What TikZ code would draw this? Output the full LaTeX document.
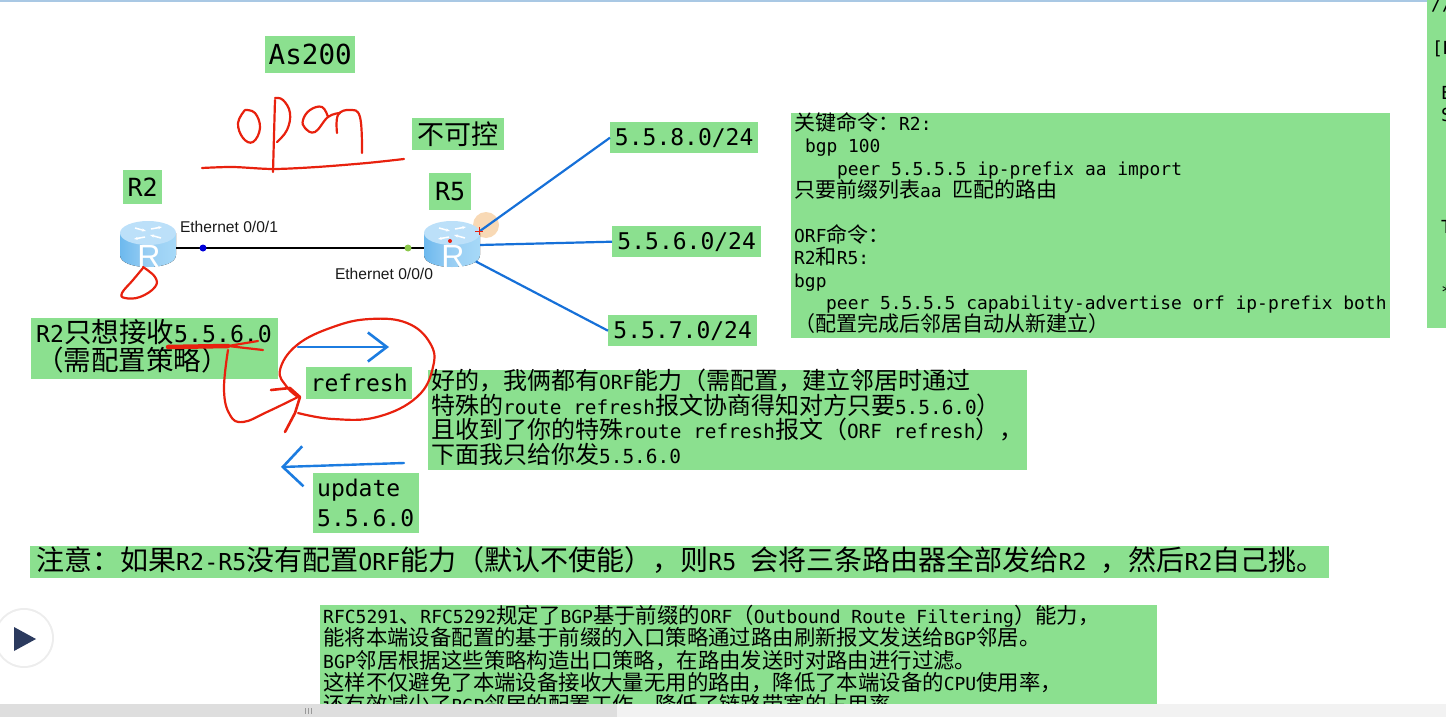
\documentclass[tikz,border=0pt]{standalone}
\usepackage{fontspec}
\setmonofont{DejaVu Sans Mono}
\newfontfamily\cjk{Noto Sans CJK SC}
\newfontfamily\portfont{Liberation Sans}
\usetikzlibrary{arrows.meta}
\definecolor{boxgreen}{HTML}{8BE08F}
\definecolor{penred}{HTML}{E8210E}
\definecolor{penblue}{HTML}{1C7CE0}
\definecolor{linkblue}{HTML}{1670D8}
\definecolor{routerside}{HTML}{6DB9EE}
\definecolor{routerlight}{HTML}{A6D9F8}
\definecolor{routertop}{HTML}{BCE0F9}
\definecolor{cursororange}{HTML}{F8D9B5}
\definecolor{portgreen}{HTML}{8CC84B}
\definecolor{playdark}{HTML}{2B3A5E}
\definecolor{topbar}{HTML}{A9C8E4}
\newcommand{\zh}[1]{{\fontsize{\zhsize}{\zhsize}\cjk #1}}
\newcommand{\boxfont}[3]{\fontsize{#1}{#3}\selectfont\ttfamily\lineskiplimit=-30pt\relax\def\zhsize{#2}}
\newcommand{\monospaces}{\spaceskip=.602em\relax\xspaceskip=.602em\relax}
\newcommand{\liftup}[1]{\par\vskip#1\hrule height 0pt}
\tikzset{
    greenbox/.style={fill=boxgreen,anchor=north west,inner ysep=0pt,inner xsep=#1,align=left,execute at begin node={\monospaces}},
    greenbox/.default=3pt,
    sizes/.style n args={3}{font={\boxfont{#1}{#2}{#3}}},
    redpen/.style={draw=penred,line width=2.2pt,line cap=round,line join=round},
    bluepen/.style={draw=penblue,line width=2.4pt,line cap=round,line join=round},
    bluelink/.style={draw=linkblue,line width=2.2pt},
    portdot/.style={circle,inner sep=0pt,minimum size=7pt},
    portlabel/.style={font=\fontsize{15.6}{15.6}\portfont,text=black!90},
    stripchar/.style={font=\fontsize{18}{18}\selectfont\ttfamily,inner sep=0pt},
    router/.style={minimum width=56pt,minimum height=50pt,inner sep=0pt,path picture={
        \begin{scope}[shift={(path picture bounding box.center)}]
            \fill[left color=routerside,right color=routerlight,middle color=routerside!70!white]
                (-28,-11) -- (-28,11) .. controls (-28,27) and (28,27) .. (28,11) -- (28,-11) -- cycle;
            \fill[routertop] (0,-11) ellipse [x radius=28pt,y radius=12pt];
            \draw[white,line width=1.5pt,-{Stealth[length=4pt]}] (-13,-16) -- (-2,-13);
            \draw[white,line width=1.5pt,-{Stealth[length=4pt]}] (13,-6) -- (2,-9);
            \draw[white,line width=1.5pt,-{Stealth[length=4pt]}] (-3,-7) -- (-14,-5);
            \draw[white,line width=1.5pt,-{Stealth[length=4pt]}] (3,-15) -- (14,-17);
        \end{scope}}},
    routerletter/.style={font=\fontsize{32}{32}\portfont,text=white,inner sep=0pt}
}
\begin{document}
\begin{tikzpicture}[x=1pt,y=-1pt]
    \useasboundingbox (0,0) rectangle (1446,717);
    \fill[topbar] (0,0) rectangle (1446,2);
    % Labels
    \node[greenbox,sizes={27.6}{27.6}{30},minimum width=90pt,minimum height=37pt] (asbox) at (265,36) {As200};
    \node[greenbox,sizes={27}{27}{30},minimum width=92pt,minimum height=32pt] (ctrlbox) at (412,118) {\zh{不可控}};
    \node[greenbox,sizes={25}{25}{28},minimum width=39pt,minimum height=34pt] (rtwobox) at (123,170) {R2};
    \node[greenbox,sizes={25}{25}{28},minimum width=42pt,minimum height=37pt] (rfivebox) at (429,173) {R5};
    % Routes
    \node[greenbox,sizes={23}{23}{26},minimum width=148pt,minimum height=31pt] (neta) at (610,122) {5.5.8.0/24};
    \node[greenbox,sizes={23}{23}{26},minimum width=149pt,minimum height=31pt] (netb) at (612,226) {5.5.6.0/24};
    \node[greenbox,sizes={23}{23}{26},minimum width=149pt,minimum height=31pt] (netc) at (608,315) {5.5.7.0/24};
    % Routers
    \fill[cursororange] (486,225) circle (13pt);
    \node[router] (rtwo) at (148,244) {};
    \node[router] (rfive) at (452,244) {};
    \node[routerletter] (rtwoletter) at (149,256) {R};
    \node[routerletter] (rfiveletter) at (453,256) {R};
    % Links
    \draw[line width=1.7pt,black] (rtwo.-8) -- (rfive.188);
    \draw[bluelink] (rfive.25) -- (neta.west);
    \draw[bluelink] (rfive.-2) -- (netb.west);
    \draw[bluelink,shorten <=-5pt] (rfive.-35) -- (netc.west);
    \node[portdot,fill=blue!85!black] (porta) at (203,248) {};
    \node[portdot,fill=portgreen] (portb) at (408,248) {};
    \node[portlabel] (portalabel) at (229,227) {Ethernet 0/0/1};
    \node[portlabel] (portblabel) at (384,274) {Ethernet 0/0/0};
    \fill[penred] (450,241) circle (2pt);
    \draw[penred,line width=1pt] (475,231) -- (483,231) (479,227) -- (479,235);
    % Text boxes
    \node[greenbox=5pt,sizes={23.2}{27.5}{28},text width=237pt,minimum height=61pt] (wantbox) at (31,318)
        {R2\zh{只想接收}5.5.6.0\\\zh{（需配置策略）}\liftup{4pt}};
    \node[greenbox,sizes={23}{23}{26},minimum width=106pt,minimum height=32pt] (refreshbox) at (306,367) {refresh};
    \node[greenbox=4pt,sizes={23}{23}{30},text width=98pt,minimum height=60pt] (updatebox) at (313,473)
        {update\\5.5.6.0};
    \node[greenbox,inner ysep=-4pt,sizes={17.9}{21}{22.4},text width=593pt,minimum height=225pt] (cmdbox) at (791,113)
        {\zh{关键命令：}R2:\\
        \hspace*{10.8pt}bgp 100\\
        \hspace*{43pt}peer 5.5.5.5 ip-prefix aa import\\
        \zh{只要前缀列表}aa \zh{匹配的路由}\\
        \mbox{}\\
        ORF\zh{命令：}\\
        R2\zh{和}R5:\\
        bgp\\
        \hspace*{32pt}peer 5.5.5.5 capability-advertise orf ip-prefix both\\
        \zh{（配置完成后邻居自动从新建立）}\liftup{5pt}};
    \node[greenbox,inner ysep=-5pt,sizes={19.4}{24}{24.7},text width=593pt,minimum height=100pt] (replybox) at (428,370)
        {\zh{好的，我俩都有}ORF\zh{能力（需配置，建立邻居时通过}\\
        \zh{特殊的}route refresh\zh{报文协商得知对方只要}5.5.6.0\zh{）}\\
        \zh{且收到了你的特殊}route refresh\zh{报文（}ORF refresh\zh{），}\\
        \zh{下面我只给你发}5.5.6.0\liftup{6pt}};
    \node[greenbox=6pt,inner ysep=-3pt,sizes={23.3}{28}{30},text width=1287pt,minimum height=32pt] (notebox) at (30,546)
        {\mbox{\zh{注意：如果}R2-R5\zh{没有配置}ORF\zh{能力（默认不使能），则}R5 \zh{会将三条路由器全部发给}R2 \zh{，然后}R2\zh{自己挑。}}\liftup{4pt}};
    \node[greenbox,sizes={18}{21.4}{22.3},text width=831pt,minimum height=113pt] (rfcbox) at (320,605)
        {RFC5291\zh{、}RFC5292\zh{规定了}BGP\zh{基于前缀的}ORF\zh{（}Outbound Route Filtering\zh{）能力，}\\
        \zh{能将本端设备配置的基于前缀的入口策略通过路由刷新报文发送给}BGP\zh{邻居。}\\
        BGP\zh{邻居根据这些策略构造出口策略，在路由发送时对路由进行过滤。}\\
        \zh{这样不仅避免了本端设备接收大量无用的路由，降低了本端设备的}CPU\zh{使用率，}\\
        \zh{还有效减少了}BGP\zh{邻居的配置工作，降低了链路带宽的占用率}\liftup{4pt}};
    % Right strip
    \fill[boxgreen] (1427,0) rectangle (1446,328);
    \begin{scope}
        \clip (1427,0) rectangle (1446,328);
        \node[stripchar,anchor=west] (stripa) at (1431,5) {//};
        \node[stripchar,anchor=west] (stripb) at (1432,49) {[R};
        \node[stripchar,anchor=west] (stripc) at (1441,93) {E};
        \node[stripchar,anchor=west] (stripd) at (1441,115) {S};
        \node[stripchar,anchor=west] (stripe) at (1441,227) {T};
        \node[stripchar,anchor=west] (stripf) at (1441,292) {*};
    \end{scope}
    % Handwriting
    \draw[redpen] plot[smooth,tension=0.7] coordinates {(245,110) (238,123) (243,138) (253,142) (260,128) (255,113) (245,110)};
    \draw[redpen] (273,172) -- (275,100);
    \draw[redpen] plot[smooth,tension=0.7] coordinates {(275,98) (283,100) (290,113) (287,130) (277,142)};
    \draw[redpen] plot[smooth,tension=0.7] coordinates {(340,113) (328,117) (315,132) (305,128) (303,120) (310,110) (322,107) (328,117)};
    \draw[redpen] plot[smooth,tension=0.7] coordinates {(337,133) (338,115) (350,110) (360,117) (362,153)};
    \draw[redpen] plot[smooth,tension=0.5] coordinates {(202,168) (233,167) (273,169) (317,167) (367,163) (404,159)};
    \draw[redpen] plot[smooth,tension=0.7] coordinates {(143,267) (155,277) (155,287) (140,297) (125,298) (122,293) (133,280) (143,268)};
    \draw[redpen,line width=4.5pt] (168,347) -- (228,346);
    \draw[redpen] (228,346) -- (258,341) (228,346) -- (263,350);
    \draw[redpen] plot[smooth,tension=0.7] coordinates {(228,350) (224,390) (230,415) (243,422) (267,412) (298,397)};
    \draw[redpen,line width=2.6pt] (271,390) -- (290,388) -- (300,397) -- (295,413) -- (285,432);
    \draw[redpen] plot[smooth,tension=0.7] coordinates {(298,413) (333,419) (377,417) (417,397) (433,367) (430,343) (407,323) (370,319) (333,327) (297,345) (280,370) (287,387) (298,397)};
    % Messages
    \coordinate (refreshstart) at (298,347);
    \coordinate (refreshend) at (389,347);
    \coordinate (updatestart) at (404,463);
    \coordinate (updateend) at (281,467);
    \draw[bluepen,-{Straight Barb[length=19pt,width=29pt,line width=2.6pt]}] (refreshstart) -- (refreshend);
    \draw[bluepen,-{Straight Barb[length=20pt,width=40pt,line width=2.6pt]}] (updatestart) -- (updateend);
    % Player
    \fill[black!7] (24,638) circle (30pt);
    \fill[white] (24,638) circle (28pt);
    \fill[playdark] (14,627) -- (36,639) -- (14,651) -- cycle;
    % Scrollbar
    \fill[black!13] (0,704) rectangle (617,717);
    \fill[black!5] (617,704) rectangle (1446,717);
    \draw[black!40,line width=0.5pt] (305,708) -- (305,714) (308,708) -- (308,714) (311,708) -- (311,714);
\end{tikzpicture}
\end{document}
